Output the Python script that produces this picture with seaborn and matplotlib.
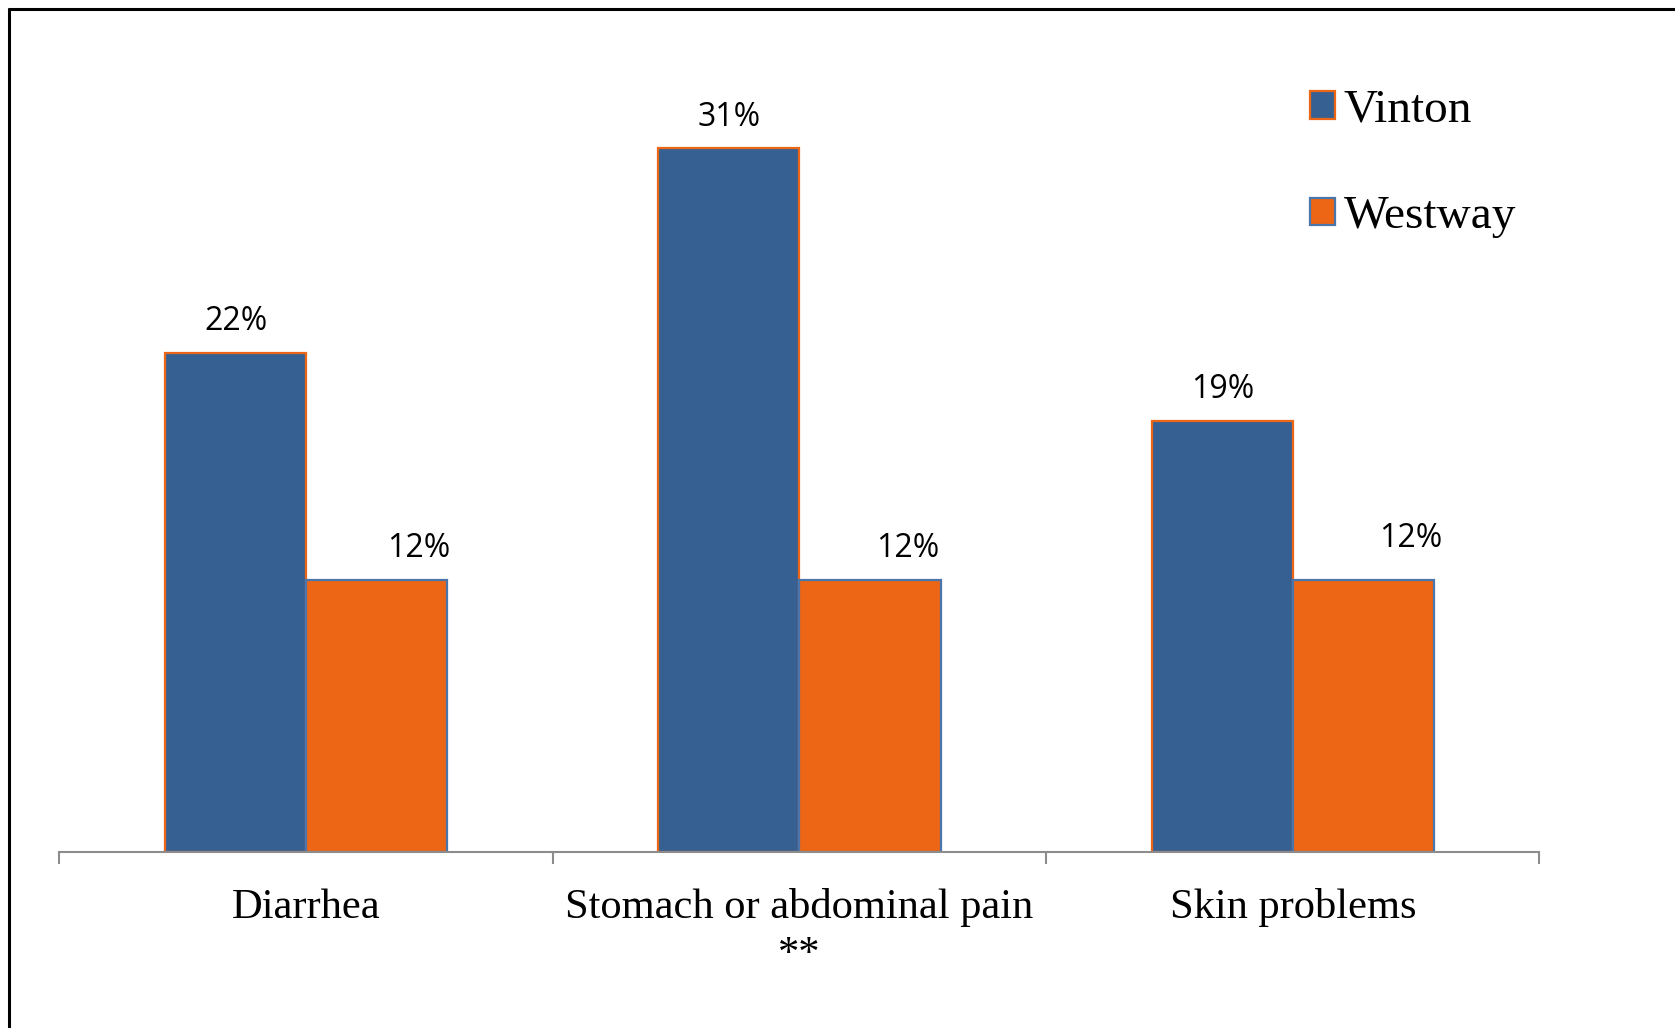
import matplotlib
matplotlib.use("Agg")
import matplotlib.pyplot as plt
from matplotlib.patches import Patch
from matplotlib.lines import Line2D
import seaborn as sns
import pandas as pd

# Share of respondents reporting each symptom, by site
symptoms = ["Diarrhea", "Stomach or abdominal pain\n**", "Skin problems"]
sites = ["Vinton", "Westway"]
vinton_pct = [22, 31, 19]
westway_pct = [12, 12, 12]

BLUE = "#376092"
ORANGE = "#EC6615"
EDGE_BLUE = "#4A76AC"
AXIS_GREY = "#8C8C8C"

df = pd.DataFrame({
    "symptom": symptoms * 2,
    "site": [sites[0]] * 3 + [sites[1]] * 3,
    "pct": vinton_pct + westway_pct,
})

sns.set_style("white")
plt.rcParams["font.family"] = ["Liberation Serif", "DejaVu Serif"]
plt.rcParams["text.color"] = "black"

fig = plt.figure(figsize=(16.75, 10.28), dpi=100)
ax = fig.add_axes([0.0355, 0.1712, 0.8836, 0.7729])

sns.barplot(data=df, x="symptom", y="pct", hue="site", order=symptoms,
            hue_order=sites, palette=[BLUE, ORANGE], saturation=1,
            width=0.572, legend=False, ax=ax)

edge_for = {0: ORANGE, 1: EDGE_BLUE}
values = [vinton_pct, westway_pct]
# label offsets in points (dx, dy) for each series / bar
label_offsets = [
    [(0, 22.5), (0, 22.5), (0, 22.5)],
    [(30, 22.5), (27, 22.5), (34, 29.5)],
]
for i, cont in enumerate(ax.containers):
    for j, bar in enumerate(cont):
        bar.set_edgecolor(edge_for[i])
        bar.set_linewidth(1.6)
        cx = bar.get_x() + bar.get_width() / 2
        ax.annotate(f"{values[i][j]}%", xy=(cx, bar.get_height()),
                    xytext=label_offsets[i][j], textcoords="offset points",
                    ha="center", va="center", fontsize=23,
                    family="Open Sans", color="black")

ax.set_xlim(-0.5, 2.5)
ax.set_ylim(0, 35)
ax.set_xlabel("")
ax.set_ylabel("")
ax.set_yticks([])

for side in ["top", "right", "left"]:
    ax.spines[side].set_visible(False)
ax.spines["bottom"].set_color(AXIS_GREY)
ax.spines["bottom"].set_linewidth(1.5)

ax.set_xticks([0, 1, 2])
ax.set_xticklabels(symptoms, fontsize=30.6, linespacing=1.27, color="black")
ax.tick_params(axis="x", which="major", length=0, pad=26, labelcolor="black")
ax.set_xticks([-0.5, 0.5, 1.5, 2.5], minor=True)
ax.tick_params(axis="x", which="minor", bottom=True, length=8.6, width=1.5,
               color=AXIS_GREY, direction="out")

handles = [
    Patch(facecolor=BLUE, edgecolor=ORANGE, linewidth=1.6, label=sites[0]),
    Patch(facecolor=ORANGE, edgecolor=EDGE_BLUE, linewidth=1.6, label=sites[1]),
]
leg = fig.legend(handles=handles, loc="upper left",
                 bbox_to_anchor=(1310 / 1675, 1 - 89 / 1028),
                 frameon=False, fontsize=34, handlelength=0.53,
                 handleheight=0.53, handletextpad=0.18, labelspacing=1.36,
                 borderpad=0, borderaxespad=0)
for t in leg.get_texts():
    t.set_color("black")

# frame lines along the top and left edges of the figure
fig.add_artist(Line2D([0.0054, 1.0], [1 - 9 / 1028, 1 - 9 / 1028],
                      transform=fig.transFigure, color="black", linewidth=2.2))
fig.add_artist(Line2D([0.0054, 0.0054], [0.0, 1 - 9 / 1028],
                      transform=fig.transFigure, color="black", linewidth=2.2))

fig.savefig("out.png", dpi=100, facecolor="white")
